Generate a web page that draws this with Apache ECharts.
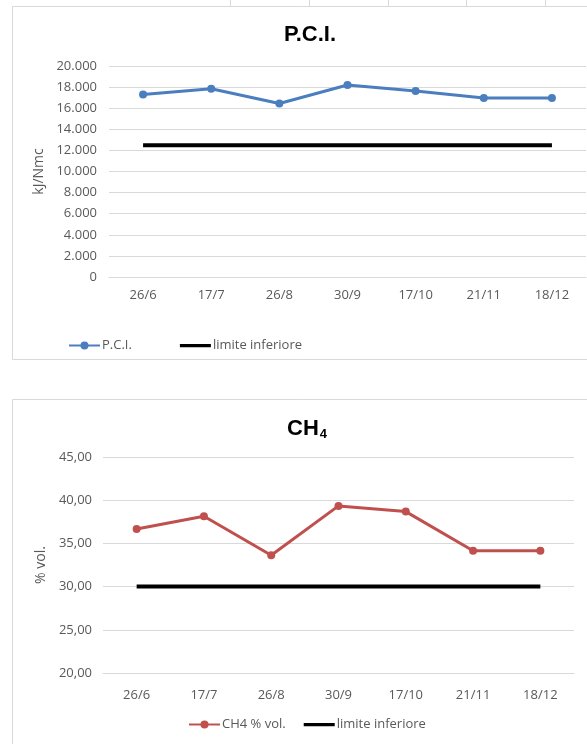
<!DOCTYPE html>
<html>
<head>
<meta charset="utf-8">
<script src="https://cdn.jsdelivr.net/npm/echarts@6/dist/echarts.min.js"></script>
<style>
html,body{margin:0;padding:0;background:#fff;}
#c{width:587px;height:744px;}
</style>
</head>
<body>
<div id="c"></div>
<script>
var categories = ['26/6','17/7','26/8','30/9','17/10','21/11','18/12'];
var pciValues = [17300, 17850, 16450, 18200, 17630, 16970, 16970];
var pciLimit = [12500, 12500, 12500, 12500, 12500, 12500, 12500];
var ch4Values = [36.67, 38.14, 33.62, 39.34, 38.68, 34.15, 34.15];
var ch4Limit = [30, 30, 30, 30, 30, 30, 30];

var FONT = '"Open Sans", sans-serif';
var GREY = '#595959';
var LINE = '#d9d9d9';
var BAR_ICON = 'path://M0,0h0.01v0.01h-0.01z M0,3.5h31v3.2h-31z M0,9.99h0.01v0.01h-0.01z';

function fmtThousands(v){
  if (v === 0) return '0';
  return String(v).replace(/\B(?=(\d{3})+(?!\d))/g, '.');
}
function fmtComma(v){ return v.toFixed(2).replace('.', ','); }

var chart = echarts.init(document.getElementById('c'));

var graphics = [
  {type:'rect', shape:{x:12.5,y:6.5,width:600,height:353}, style:{fill:'none',stroke:LINE,lineWidth:1}, z:-1},
  {type:'rect', shape:{x:12.5,y:399.5,width:600,height:400}, style:{fill:'none',stroke:LINE,lineWidth:1}, z:-1}
];
[230,309,388,466,545].forEach(function(x){
  graphics.push({type:'line', shape:{x1:x+0.5,y1:0,x2:x+0.5,y2:6}, style:{stroke:LINE,lineWidth:1}, z:-1});
});

var option = {
  animation:false,
  backgroundColor:'#fff',
  graphic: graphics,
  title:[
    {text:'P.C.I.', left:305, top:19, textAlign:'center',
     textStyle:{fontFamily:'"Liberation Sans", Arial, sans-serif', fontSize:22, fontWeight:'bold', color:'#000'}},
    {text:'CH{s|4}', left:302, top:411, textAlign:'center',
     textStyle:{fontFamily:'"Liberation Sans", Arial, sans-serif', fontSize:22, fontWeight:'bold', color:'#000',
       rich:{s:{fontFamily:'"Liberation Sans", Arial, sans-serif', fontSize:13, fontWeight:'bold', color:'#000', padding:[12,0,0,1]}}}}
  ],
  legend:[
    {left:63, top:334, itemWidth:31, itemHeight:10, itemGap:48,
     data:['P.C.I.', {name:'limite inferiore ', icon:BAR_ICON}],
     textStyle:{fontFamily:FONT, fontSize:13, color:GREY, padding:[0,0,0,-3]}},
    {left:183, top:713, itemWidth:31, itemHeight:10, itemGap:18,
     data:['CH4 % vol.', {name:'limite inferiore', icon:BAR_ICON}],
     textStyle:{fontFamily:FONT, fontSize:13, color:GREY, padding:[0,0,0,-3]}}
  ],
  grid:[
    {left:109, right:1, top:66, bottom:467, containLabel:false},
    {left:103, right:13, top:457, bottom:71, containLabel:false}
  ],
  xAxis:[
    {type:'category', gridIndex:0, data:categories, boundaryGap:true,
     axisLine:{lineStyle:{color:LINE}}, axisTick:{length:5, lineStyle:{color:LINE}},
     axisLabel:{fontFamily:FONT, fontSize:13, color:GREY, margin:12}},
    {type:'category', gridIndex:1, data:categories, boundaryGap:true,
     axisLine:{lineStyle:{color:LINE}}, axisTick:{length:5, lineStyle:{color:LINE}},
     axisLabel:{fontFamily:FONT, fontSize:13, color:GREY, margin:16}}
  ],
  yAxis:[
    {type:'value', gridIndex:0, min:0, max:20000, interval:2000,
     name:'kJ/Nmc', nameLocation:'middle', nameGap:58, nameRotate:90,
     nameTextStyle:{fontFamily:FONT, fontSize:14, color:GREY},
     axisLine:{show:false}, axisTick:{show:false},
     splitLine:{lineStyle:{color:LINE}},
     axisLabel:{fontFamily:FONT, fontSize:13, color:GREY, margin:12, formatter:fmtThousands}},
    {type:'value', gridIndex:1, min:20, max:45, interval:5,
     name:'% vol.', nameLocation:'middle', nameGap:52, nameRotate:90,
     nameTextStyle:{fontFamily:FONT, fontSize:14, color:GREY},
     axisLine:{show:false}, axisTick:{show:false},
     splitLine:{lineStyle:{color:LINE}},
     axisLabel:{fontFamily:FONT, fontSize:13, color:GREY, margin:11, formatter:fmtComma}}
  ],
  series:[
    {name:'P.C.I.', type:'line', xAxisIndex:0, yAxisIndex:0, data:pciValues,
     symbol:'circle', symbolSize:8, lineStyle:{width:3, color:'#4a7ebf'}, itemStyle:{color:'#4a7ebf'}},
    {name:'limite inferiore ', type:'line', xAxisIndex:0, yAxisIndex:0, data:pciLimit,
     symbol:'none', lineStyle:{width:4, color:'#000'}, itemStyle:{color:'#000'}},
    {name:'CH4 % vol.', type:'line', xAxisIndex:1, yAxisIndex:1, data:ch4Values,
     symbol:'circle', symbolSize:8, lineStyle:{width:3, color:'#c0504d'}, itemStyle:{color:'#c0504d'}},
    {name:'limite inferiore', type:'line', xAxisIndex:1, yAxisIndex:1, data:ch4Limit,
     symbol:'none', lineStyle:{width:4, color:'#000'}, itemStyle:{color:'#000'}}
  ]
};
chart.setOption(option);
</script>
</body>
</html>
